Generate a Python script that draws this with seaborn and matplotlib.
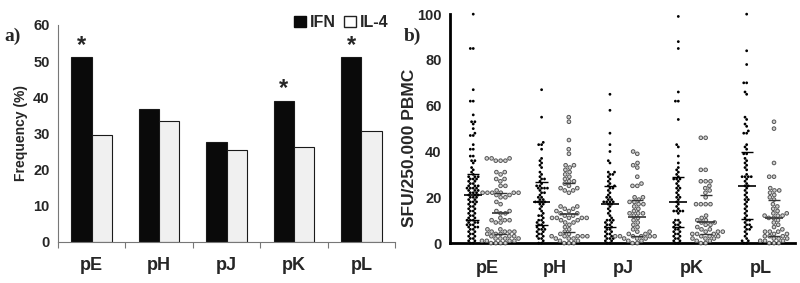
import numpy as np
import pandas as pd
import matplotlib
matplotlib.use("Agg")
import matplotlib.pyplot as plt
import seaborn as sns
from matplotlib.patches import Patch

# ---------------- data ----------------
peptides = ["pE", "pH", "pJ", "pK", "pL"]
cytokines = ["IFN", "IL-4"]
freq_ifn = [51.0, 36.8, 27.5, 39.0, 51.0]
freq_il4 = [29.5, 33.3, 25.5, 26.3, 30.6]
significant = ["pE", "pK", "pL"]

sfu_ifn_pE = [100, 85, 85, 67, 62, 62, 56, 53, 53, 52, 50, 48, 47, 47, 43, 41, 41, 38, 38,
              36, 36, 35, 33, 32, 31, 30, 29, 29, 29, 28, 28, 28, 27, 27, 26, 26, 25, 25,
              25, 24, 24, 24, 24, 23, 23, 23, 22, 22, 22, 21, 21, 21, 20, 20, 20, 19, 19,
              18, 18, 18, 17, 17, 16, 16, 15, 15, 14, 14, 13, 13, 12, 12, 11, 11, 10, 10,
              10, 9, 9, 9, 8, 8, 8, 7, 7, 7, 6, 6, 5, 5, 4, 4, 3, 3, 2, 2, 1, 1, 0, 0]
sfu_il4_pE = [37, 37, 37, 36, 36, 36, 31, 31, 30, 28, 28, 27, 25, 25, 23, 22, 22, 22, 22,
              22, 22, 21, 21, 20, 20, 18, 17, 14, 14, 13, 13, 11, 10, 10, 10, 9, 9, 6, 6,
              5, 5, 5, 5, 4, 4, 4, 3, 3, 3, 2, 2, 2, 2, 1, 1, 1, 1, 0, 0, 0, 0]
sfu_ifn_pH = [67, 55, 44, 43, 43, 41, 37, 36, 35, 34, 33, 31, 30, 29, 28, 28, 27, 26, 25,
              25, 24, 24, 24, 24, 23, 22, 22, 21, 20, 20, 19, 19, 18, 18, 18, 18, 17, 17,
              16, 15, 14, 13, 12, 12, 11, 10, 10, 9, 9, 8, 8, 7, 7, 6, 6, 6, 5, 5, 4, 4,
              3, 3, 2, 2, 1, 0, 0]
sfu_il4_pH = [55, 53, 45, 41, 39, 34, 34, 33, 32, 31, 30, 29, 28, 27, 27, 26, 25, 24, 24,
              23, 23, 22, 16, 16, 15, 15, 14, 14, 13, 13, 12, 12, 11, 11, 11, 11, 11, 10,
              10, 9, 9, 8, 7, 6, 5, 4, 4, 3, 3, 3, 3, 3, 2, 2, 2, 1, 1, 0, 0, 0]
sfu_ifn_pJ = [65, 58, 48, 43, 40, 36, 35, 31, 31, 30, 30, 29, 28, 27, 26, 25, 25, 24, 24,
              23, 22, 21, 20, 20, 19, 19, 18, 18, 18, 18, 17, 17, 16, 15, 14, 13, 12, 11,
              10, 10, 10, 9, 9, 8, 8, 7, 7, 6, 6, 5, 5, 4, 4, 3, 3, 2, 2, 2, 1, 1, 0, 0]
sfu_il4_pJ = [40, 39, 35, 34, 33, 29, 26, 25, 25, 20, 20, 19, 18, 18, 17, 17, 16, 15, 14,
              13, 13, 13, 12, 11, 10, 9, 8, 7, 6, 5, 5, 4, 4, 3, 3, 3, 3, 3, 3, 2, 2, 2,
              1, 1, 0, 0]
sfu_ifn_pK = [99, 88, 85, 66, 62, 62, 54, 43, 42, 38, 35, 33, 32, 31, 30, 29, 28, 28, 28,
              27, 26, 25, 24, 24, 23, 22, 21, 20, 20, 19, 18, 17, 16, 15, 14, 14, 14, 14,
              13, 10, 10, 9, 9, 8, 8, 7, 7, 6, 6, 5, 5, 4, 4, 3, 3, 2, 2, 1, 1, 0, 0]
sfu_il4_pK = [46, 46, 32, 32, 27, 27, 27, 25, 24, 23, 22, 20, 17, 17, 17, 17, 12, 11, 10,
              10, 9, 9, 8, 8, 7, 6, 6, 5, 5, 5, 4, 4, 4, 3, 3, 3, 2, 2, 2, 1, 1, 0, 0]
sfu_ifn_pL = [100, 84, 78, 70, 70, 66, 65, 55, 54, 52, 51, 49, 48, 48, 43, 42, 41, 39, 39,
              37, 36, 35, 34, 33, 32, 30, 29, 29, 29, 29, 28, 27, 26, 25, 25, 24, 23, 22,
              21, 20, 19, 19, 18, 17, 16, 15, 14, 13, 12, 11, 10, 10, 9, 8, 8, 7, 7, 6, 6,
              5, 4, 3, 2, 1, 1, 0, 0]
sfu_il4_pL = [53, 50, 35, 29, 29, 24, 23, 23, 22, 21, 20, 19, 17, 16, 15, 14, 13, 13, 12,
              12, 12, 11, 11, 10, 9, 8, 7, 6, 5, 5, 5, 4, 4, 3, 3, 3, 2, 2, 2, 1, 1, 1, 0,
              0, 0]

sfu = {
    ("pE", "IFN"): sfu_ifn_pE, ("pE", "IL-4"): sfu_il4_pE,
    ("pH", "IFN"): sfu_ifn_pH, ("pH", "IL-4"): sfu_il4_pH,
    ("pJ", "IFN"): sfu_ifn_pJ, ("pJ", "IL-4"): sfu_il4_pJ,
    ("pK", "IFN"): sfu_ifn_pK, ("pK", "IL-4"): sfu_il4_pK,
    ("pL", "IFN"): sfu_ifn_pL, ("pL", "IL-4"): sfu_il4_pL,
}

# ---------------- style ----------------
sns.set_style("white")
plt.rcParams["font.family"] = ["Liberation Sans", "DejaVu Sans"]
plt.rcParams["font.weight"] = "bold"

fig = plt.figure(figsize=(8.0, 2.83), dpi=100)
axa = fig.add_axes([0.0725, 0.145, 0.4215, 0.767])
axb = fig.add_axes([0.5625, 0.141, 0.4315, 0.809])

# ---------------- panel a ----------------
df_freq = pd.DataFrame({
    "peptide": peptides * 2,
    "cytokine": ["IFN"] * len(peptides) + ["IL-4"] * len(peptides),
    "freq": freq_ifn + freq_il4,
})
sns.barplot(data=df_freq, x="peptide", y="freq", hue="cytokine", order=peptides,
            hue_order=cytokines, palette={"IFN": "#0a0a0a", "IL-4": "#f0f0f0"},
            width=0.6, edgecolor="#1a1a1a", linewidth=0.8, saturation=1,
            legend=False, ax=axa)
axa.set_xlim(-0.5, 4.5)
axa.set_ylim(0, 60)
axa.set_yticks(range(0, 61, 10))
axa.set_xlabel("")
axa.set_ylabel("Frequency (%)", fontsize=10, fontweight="bold", labelpad=4)
axa.set_xticks(range(len(peptides)))
axa.set_xticklabels(peptides, fontsize=13, fontweight="bold")
axa.tick_params(axis="x", which="major", length=0, pad=11)
axa.tick_params(axis="y", length=4, width=0.8, color="#777777", direction="out",
                labelsize=10.5, pad=2)
# separator marks between categories on the x axis
axa.vlines(np.arange(-0.5, 5.0, 1.0), -1.8, 0, color="#777777", lw=0.8, clip_on=False)
for lab in axa.get_yticklabels():
    lab.set_fontweight("bold")
for s in ["top", "right"]:
    axa.spines[s].set_visible(False)
for s in ["left", "bottom"]:
    axa.spines[s].set_color("#777777")
    axa.spines[s].set_linewidth(0.8)

for i, p in enumerate(peptides):
    if p in significant:
        axa.text(i - 0.15, freq_ifn[i] + 0.2, "*", ha="center", va="bottom",
                 fontsize=17, fontweight="bold")

handles = [Patch(facecolor="#0a0a0a", edgecolor="#0a0a0a", label="IFN"),
           Patch(facecolor="white", edgecolor="#222222", label="IL-4")]
axa.legend(handles=handles, loc="upper right", bbox_to_anchor=(1.0, 1.075), ncol=2,
           frameon=False, handlelength=0.75, handleheight=0.75,
           handletextpad=0.25, columnspacing=0.5, borderaxespad=0,
           prop={"weight": "bold", "size": 11.5})
fig.text(0.005, 0.855, "a)", fontsize=14, fontweight="bold", family="Liberation Serif")

# ---------------- panel b ----------------
rows = []
for (p, c), vals in sfu.items():
    for v in vals:
        rows.append((p, c, v))
df_sfu = pd.DataFrame(rows, columns=["peptide", "cytokine", "sfu"])

n0 = len(axb.collections)
sns.swarmplot(data=df_sfu[df_sfu.cytokine == "IFN"], x="peptide", y="sfu", hue="cytokine",
              order=peptides, hue_order=cytokines, dodge=True,
              palette={"IFN": "black", "IL-4": "black"}, size=2.0, linewidth=0,
              legend=False, warn_thresh=1, ax=axb)
sns.swarmplot(data=df_sfu[df_sfu.cytokine == "IL-4"], x="peptide", y="sfu", hue="cytokine",
              order=peptides, hue_order=cytokines, dodge=True,
              palette={"IFN": "#d0d0d0", "IL-4": "#d0d0d0"}, size=2.6, linewidth=0.7,
              edgecolor="#555555", legend=False, warn_thresh=1, ax=axb)
for coll in axb.collections[n0:]:
    offs = np.asarray(coll.get_offsets())
    if offs.size and np.all(np.isfinite(offs)):
        coll.set_clip_on(False)

# median and interquartile range lines
for i, p in enumerate(peptides):
    for c, off, col in [("IFN", -0.2, "black"), ("IL-4", 0.2, "#333333")]:
        q1, med, q3 = np.percentile(sfu[(p, c)], [25, 50, 75])
        axb.hlines(med, i + off - 0.13, i + off + 0.13, color=col, lw=1.2, zorder=3)
        axb.hlines([q1, q3], i + off - 0.09, i + off + 0.09, color=col, lw=1.0, zorder=3)

axb.set_xlim(-0.54, 4.51)
axb.set_ylim(0, 100)
axb.set_yticks(range(0, 101, 20))
axb.set_xlabel("")
axb.set_ylabel("SFU/250.000 PBMC", fontsize=12.5, fontweight="bold")
axb.yaxis.set_label_coords(-0.095, 0.415)
axb.set_xticks(range(len(peptides)))
axb.set_xticklabels(peptides, fontsize=13, fontweight="bold")
axb.tick_params(axis="x", length=0, pad=12)
axb.tick_params(axis="y", length=4, width=1.5, direction="out", labelsize=10.5, pad=2)
for lab in axb.get_yticklabels():
    lab.set_fontweight("bold")
for s in ["top", "right"]:
    axb.spines[s].set_visible(False)
for s in ["left", "bottom"]:
    axb.spines[s].set_color("black")
    axb.spines[s].set_linewidth(2)
fig.text(0.505, 0.855, "b)", fontsize=14, fontweight="bold", family="Liberation Serif")

fig.savefig("out.png", dpi=100)
